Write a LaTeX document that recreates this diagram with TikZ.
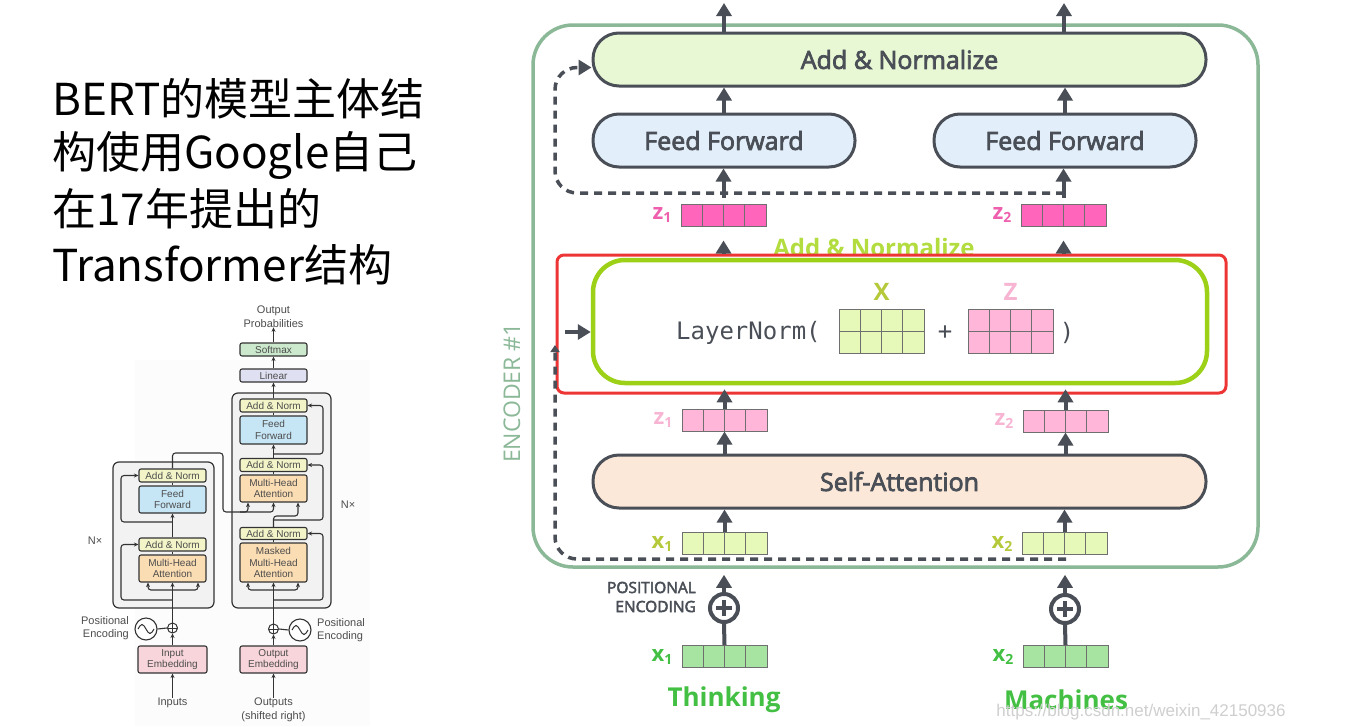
\documentclass[tikz,border=0pt]{standalone}
\usepackage{fontspec}
\setmainfont{Open Sans}
\newfontfamily\sbfont{Open Sans}[FakeBold=3]
\newfontfamily\cjkfont{Noto Sans CJK SC}
\newfontfamily\hfont{Liberation Sans}
\newfontfamily\mfont{DejaVu Sans Mono}
\usetikzlibrary{arrows.meta}
\definecolor{dk}{HTML}{4A4F57}
\definecolor{encg}{HTML}{8BB897}
\definecolor{addf}{HTML}{E9F8D4}
\definecolor{fff}{HTML}{E2EFFA}
\definecolor{saf}{HTML}{FCE8D8}
\definecolor{hotp}{HTML}{FF66BB}
\definecolor{hotpt}{HTML}{EE5FAE}
\definecolor{lpk}{HTML}{FFB6D9}
\definecolor{lpkt}{HTML}{F7B5D3}
\definecolor{limf}{HTML}{E6F9B9}
\definecolor{limt}{HTML}{B5C93A}
\definecolor{limb}{HTML}{9CD118}
\definecolor{addt}{HTML}{B3DD3F}
\definecolor{grf}{HTML}{A7E4A1}
\definecolor{grt}{HTML}{43C043}
\definecolor{redb}{HTML}{EE3535}
\definecolor{cellb}{HTML}{6F6F6F}
\definecolor{sgray}{HTML}{333333}
\definecolor{stxt}{HTML}{4D4D4D}
\definecolor{sAN}{HTML}{F3F5C8}
\definecolor{sFF}{HTML}{C6E5F5}
\definecolor{sMH}{HTML}{FBDDB3}
\definecolor{sEM}{HTML}{F8D5DA}
\definecolor{sLN}{HTML}{DFE0F2}
\definecolor{sSM}{HTML}{CCE9CD}
\definecolor{sBK}{HTML}{F2F2F2}
\definecolor{panel}{HTML}{FCFCFC}
\definecolor{wm}{HTML}{CFCFCF}
\newcommand{\veclab}[2]{{\fontsize{22}{22}\selectfont\bfseries #1}\raisebox{-3pt}{\fontsize{14}{14}\selectfont\bfseries #2}}
\tikzset{
 bigarr/.style={draw=dk, line width=4pt, -{Triangle[width=15pt,length=13pt]}},
 bigln/.style={draw=dk, line width=4pt},
 dsh/.style={draw=dk, line width=3.5pt, dash pattern=on 8pt off 6pt},
 pill/.style={draw=dk, line width=3pt, rounded corners=26pt, minimum height=53pt, inner sep=0pt, font=\sbfont\fontsize{25}{25}\selectfont, text=dk},
 vec/.style={draw=cellb, line width=1pt, minimum width=85pt, minimum height=22pt, inner sep=0pt,
   path picture={\foreach \i in {1,2,3}{\draw[cellb, line width=1pt] ([xshift=\i*21.25pt]path picture bounding box.south west) -- ([xshift=\i*21.25pt]path picture bounding box.north west);}}},
 mat/.style={draw=cellb, line width=1pt, minimum width=85pt, minimum height=44pt, inner sep=0pt,
   path picture={\foreach \i in {1,2,3}{\draw[cellb, line width=1pt] ([xshift=\i*21.25pt]path picture bounding box.south west) -- ([xshift=\i*21.25pt]path picture bounding box.north west);}
   \draw[cellb, line width=1pt] (path picture bounding box.west) -- (path picture bounding box.east);}},
 oplus/.style={circle, draw=dk, line width=4pt, minimum size=28pt, inner sep=0pt, fill=white,
   path picture={\draw[dk, line width=4.5pt] ([xshift=-8pt]path picture bounding box.center) -- ([xshift=8pt]path picture bounding box.center);
   \draw[dk, line width=4.5pt] ([yshift=-8pt]path picture bounding box.center) -- ([yshift=8pt]path picture bounding box.center);}},
 sb/.style={draw=sgray, line width=1.1pt, rounded corners=2pt, minimum width=67pt, inner sep=0pt, align=center, text=stxt, font=\hfont\fontsize{10}{11.3}\selectfont},
 sblk/.style={draw=sgray, fill=sBK, line width=1.2pt, rounded corners=6pt, inner sep=0pt},
 sarr/.style={draw=sgray, line width=1.1pt, -{Stealth[length=4.5pt,width=4pt]}, rounded corners=3pt},
 sl/.style={draw=sgray, line width=1.1pt, rounded corners=3pt},
 stx/.style={text=stxt, font=\hfont\fontsize{11}{13.5}\selectfont, inner sep=0pt, align=center},
 splus/.style={circle, draw=sgray, line width=1pt, minimum size=10pt, inner sep=0pt, fill=white,
   path picture={\draw[sgray, line width=0.9pt] ([xshift=-5pt]path picture bounding box.center) -- ([xshift=5pt]path picture bounding box.center);
   \draw[sgray, line width=0.9pt] ([yshift=-5pt]path picture bounding box.center) -- ([yshift=5pt]path picture bounding box.center);}},
 ssin/.style={circle, draw=sgray, line width=1.1pt, minimum size=22pt, inner sep=0pt, fill=white,
   path picture={\draw[sgray, line width=1pt] ([xshift=-8pt]path picture bounding box.center) sin ++(4,-4.5) cos ++(4,4.5) sin ++(4,4.5) cos ++(4,-4.5);}},
 cjk/.style={anchor=west, inner sep=0pt, font=\cjkfont\fontsize{44}{44}\selectfont, text=black},
}
\begin{document}
\begin{tikzpicture}[x=1pt,y=-1pt]
\useasboundingbox (0,0) rectangle (1368,726);
\fill[white] (0,0) rectangle (1368,726);
\fill[panel] (135,360) rectangle (370,726);

% ---------- left text ----------
\node[cjk] (t1) at (52,99) {BERT的模型主体结};
\node[cjk] (t2) at (52,155) {构使用Google自己};
\node[cjk] (t3) at (52,209) {在17年提出的};
\node[cjk] (t4) at (52,265) {Transformer结构};

% ---------- small transformer ----------
\node[sblk, minimum width=101pt, minimum height=146pt] (eblk) at (163.5,535) {};
\node[sblk, minimum width=99pt, minimum height=215pt] (dblk) at (281.5,500.5) {};

\node[sb, fill=sAN, minimum height=13pt] (ean2) at (172.5,475.5) {Add \& Norm};
\node[sb, fill=sFF, minimum height=27pt] (eff) at (172.5,499.5) {Feed\\Forward};
\node[sb, fill=sAN, minimum height=13pt] (ean1) at (172.5,544.5) {Add \& Norm};
\node[sb, fill=sMH, minimum height=27pt] (emha) at (172.5,568.5) {Multi-Head\\Attention};
\node[sb, fill=sEM, minimum width=69pt, minimum height=27pt] (eemb) at (172.5,659.5) {Input\\Embedding};
\node[splus] (eplus) at (172.5,628) {};
\node[ssin] (esin) at (146,629) {};
\node[stx, anchor=east, align=right] (epe) at (129,628) {Positional\\Encoding};
\node[stx] (ein) at (172.5,703) {Inputs};
\node[stx] (eN) at (95,541) {N×};

\node[sb, fill=sAN, minimum height=13pt] (dan3) at (273.5,405.5) {Add \& Norm};
\node[sb, fill=sFF, minimum height=28pt] (dff) at (273.5,430) {Feed\\Forward};
\node[sb, fill=sAN, minimum height=13pt] (dan2) at (273.5,465) {Add \& Norm};
\node[sb, fill=sMH, minimum height=27pt] (dmha) at (273.5,488.5) {Multi-Head\\Attention};
\node[sb, fill=sAN, minimum height=12pt] (dan1) at (273.5,533.5) {Add \& Norm};
\node[sb, fill=sMH, minimum height=39pt] (dmmha) at (273.5,562.5) {Masked\\Multi-Head\\Attention};
\node[sb, fill=sEM, minimum height=27pt] (demb) at (273.5,659.5) {Output\\Embedding};
\node[sb, fill=sLN, minimum height=13pt] (lin) at (273.5,375.5) {Linear};
\node[sb, fill=sSM, minimum height=13pt] (soft) at (273.5,349.5) {Softmax};
\node[splus] (dplus) at (273.5,629) {};
\node[ssin] (dsin) at (300,630) {};
\node[stx, anchor=west, align=left] (dpe) at (317,630) {Positional\\Encoding};
\node[stx, font=\hfont\fontsize{11}{14}\selectfont] (dout) at (273.5,710) {Outputs\\(shifted right)};
\node[stx] (dop) at (273.5,316.5) {Output\\Probabilities};
\node[stx] (dN) at (348,505) {N×};

% encoder connections
\draw[sarr] (ein.north) -- (eemb.south);
\draw[sarr] (eemb.north) -- (eplus.south);
\draw[sl] (esin.east) -- (eplus.west);
\draw[sarr] (eplus.north) -- (emha.south);
\coordinate (eb) at (172.5,590);
\draw[sarr] (eb) -| ([xshift=-24.5pt]emha.south);
\draw[sarr] (eb) -| ([xshift=25.5pt]emha.south);
\coordinate (er1) at (172.5,600);
\draw[sarr] (er1) -- (121,600) |- (ean1.west);
\draw[sl] (emha.north) -- (ean1.south);
\draw[sarr] (ean1.north) -- (eff.south);
\draw[sl] (eff.north) -- (ean2.south);
\coordinate (er2) at (172.5,522);
\draw[sarr] (er2) -- (121,522) |- (ean2.west);
\draw[sarr] (ean2.north) -- (172.5,453) -- (223,453) -- (223,512) -| ([xshift=-25.5pt]dmha.south);
\coordinate (eo) at (240,512);
\draw[sarr] (eo) -| (dmha.south);

% decoder connections
\draw[sarr] (dout.north) -- (demb.south);
\draw[sarr] (demb.north) -- (dplus.south);
\draw[sl] (dsin.west) -- (dplus.east);
\draw[sarr] (dplus.north) -- (dmmha.south);
\coordinate (db) at (273.5,590);
\draw[sarr] (db) -| ([xshift=-25.5pt]dmmha.south);
\draw[sarr] (db) -| ([xshift=24.5pt]dmmha.south);
\coordinate (dr1) at (273.5,600);
\draw[sarr] (dr1) -- (323,600) |- (dan1.east);
\draw[sl] (dmmha.north) -- (dan1.south);
\draw[sarr] (dan1.north) -- (273.5,516) -| ([xshift=24.5pt]dmha.south);
\coordinate (dr2) at (273.5,520);
\draw[sarr] (dr2) -- (323,520) |- (dan2.east);
\draw[sl] (dmha.north) -- (dan2.south);
\draw[sarr] (dan2.north) -- (dff.south);
\coordinate (dr3) at (273.5,454);
\draw[sarr] (dr3) -- (323,454) |- (dan3.east);
\draw[sl] (dff.north) -- (dan3.south);
\draw[sarr] (dan3.north) -- (lin.south);
\draw[sarr] (lin.north) -- (soft.south);
\draw[sarr] (soft.north) -- (dop.south);

% ---------- big encoder ----------
\node[draw=encg, line width=3.5pt, rounded corners=40pt, minimum width=725pt, minimum height=542pt] (enc) at (895.5,296) {};
\node[rotate=90, text=encg, font=\fontsize{23}{23}\selectfont] (enclab) at (512,393) {ENCODER \#1};

\node[pill, fill=addf, minimum width=613pt] (addtop) at (899.5,59.5) {Add \& Normalize};
\node[pill, fill=fff, minimum width=262pt] (ff1) at (724,140.5) {Feed Forward};
\node[pill, fill=fff, minimum width=262pt] (ff2) at (1065,140.5) {Feed Forward};
\coordinate (out1) at (724,3);
\coordinate (out2) at (1064,3);
\draw[bigarr] (addtop.north -| out1) -- (out1);
\draw[bigarr] (addtop.north -| out2) -- (out2);
\draw[bigarr] (ff1.north) -- (addtop.south -| ff1);
\draw[bigarr] (ff2.north) -- (addtop.south -| ff2);

% top vectors z
\node[vec, fill=hotp] (z1t) at (723.5,215) {};
\node[vec, fill=hotp] (z2t) at (1063.5,215) {};
\node[anchor=east, inner sep=0pt, text=hotpt] (z1tl) at ([xshift=-9pt]z1t.west) {\veclab{z}{1}};
\node[anchor=east, inner sep=0pt, text=hotpt] (z2tl) at ([xshift=-9pt]z2t.west) {\veclab{z}{2}};

% top dashed residual
\coordinate (dtop) at (1064,193);
\draw[dsh, rounded corners=22pt, -{Triangle[width=15pt,length=13pt]}] (dtop) -- (555,193) -- (555,67.5) -- ([yshift=-8pt]addtop.west);
\draw[bigarr] ([yshift=6pt]z1t.north) -- (ff1.south -| z1t);
\draw[bigarr] ([yshift=6pt]z2t.north) -- (ff2.south -| z2t);

% occluded label
\node[text=addt, font=\fontsize{24}{24}\selectfont\bfseries] (addlbl) at (874,247) {Add \& Normalize};

% red highlight and layernorm box
\node[draw=redb, fill=white, line width=3pt, rounded corners=7pt, minimum width=669pt, minimum height=138pt] (redr) at (891.5,324) {};
\node[draw=limb, fill=white, line width=4.5pt, rounded corners=32pt, minimum width=614pt, minimum height=123pt] (ln) at (900,321.5) {};
\node[anchor=west, inner sep=0pt, text=dk, font=\mfont\fontsize{24}{24}\selectfont] (lnt) at (676,333) {LayerNorm(};
\node[mat, fill=limf] (Xm) at (881.5,331) {};
\node[mat, fill=lpk] (Zm) at (1010.5,331) {};
\node[inner sep=0pt, text=dk, font=\mfont\fontsize{24}{24}\selectfont] (pl) at (945,333) {+};
\node[inner sep=0pt, text=dk, font=\mfont\fontsize{24}{24}\selectfont] (rp) at (1067,333) {)};
\node[text=limt, font=\fontsize{24}{24}\selectfont\bfseries] (Xl) at (881.5,292) {X};
\node[text=lpkt, font=\fontsize{24}{24}\selectfont\bfseries] (Zl) at (1010.5,292) {Z};

\draw[bigarr, shorten >=14pt] (redr.north -| z1t) -- (z1t.south);
\draw[bigarr, shorten >=14pt] (redr.north -| z2t) -- (z2t.south);

% lower z
\node[vec, fill=lpk] (z1b) at (724.5,420) {};
\node[vec, fill=lpk] (z2b) at (1065.5,421) {};
\node[anchor=east, inner sep=0pt, text=lpkt] (z1bl) at ([xshift=-9pt]z1b.west) {\veclab{z}{1}};
\node[anchor=east, inner sep=0pt, text=lpkt] (z2bl) at ([xshift=-9pt]z2b.west) {\veclab{z}{2}};
\draw[bigarr, shorten >=4pt] (z1b.north) -- (ln.south -| z1b);
\draw[bigarr, shorten >=4pt] (z2b.north) -- (ln.south -| z2b);

% self attention
\node[pill, fill=saf, minimum width=613pt] (saN) at (899.5,481.5) {Self-Attention};
\draw[bigarr] (saN.north -| z1b) -- (z1b.south);
\draw[bigarr] (saN.north -| z2b) -- (z2b.south);

% x vectors (inside)
\node[vec, fill=limf] (x1m) at (724.5,543.5) {};
\node[vec, fill=limf] (x2m) at (1064.5,543.5) {};
\node[anchor=east, inner sep=0pt, text=limt] (x1ml) at ([xshift=-9pt]x1m.west) {\veclab{x}{1}};
\node[anchor=east, inner sep=0pt, text=limt] (x2ml) at ([xshift=-9pt]x2m.west) {\veclab{x}{2}};

% lower dashed residual
\coordinate (dbot) at (1066,559);
\draw[dsh, rounded corners=22pt, -{Triangle[width=9pt,length=7pt]}] (dbot) -- (555,559) -- (555,345);
\coordinate (lnin) at (565,332);
\draw[bigarr] (lnin) -- (ln.west |- lnin);

\draw[bigarr] (x1m.north) -- (saN.south -| x1m);
\draw[bigarr] (x2m.north) -- (saN.south -| x2m);

% positional encoding
\node[oplus] (p1) at (724,608) {};
\node[oplus] (p2) at (1065,609) {};
\draw[bigarr, shorten >=6pt] (p1.north) -- (enc.south -| p1);
\draw[bigarr, shorten >=6pt] (p2.north) -- (enc.south -| p2);
\node[anchor=east, align=right, text=dk, font=\sbfont\fontsize{15.5}{19}\selectfont, inner sep=0pt] (pe) at (696,597) {POSITIONAL\\ENCODING};

\node[vec, fill=grf] (x1b) at (724.5,656.5) {};
\node[vec, fill=grf] (x2b) at (1065.5,656.5) {};
\node[anchor=east, inner sep=0pt, text=grt] (x1bl) at ([xshift=-9pt]x1b.west) {\veclab{x}{1}};
\node[anchor=east, inner sep=0pt, text=grt] (x2bl) at ([xshift=-9pt]x2b.west) {\veclab{x}{2}};
\draw[bigln] (x1b.north) -- (p1.south);
\draw[bigln] (x2b.north) -- (p2.south);

\node[text=grt, font=\fontsize{26}{26}\selectfont\bfseries] (th) at (724,700) {Thinking};
\node[text=grt, font=\fontsize{26}{26}\selectfont\bfseries] (ma) at (1066,700) {Machines};
\node[text=wm, font=\hfont\fontsize{17}{17}\selectfont] (wmk) at (1141,712) {https://blog.csdn.net/weixin\_42150936};
\end{tikzpicture}
\end{document}
